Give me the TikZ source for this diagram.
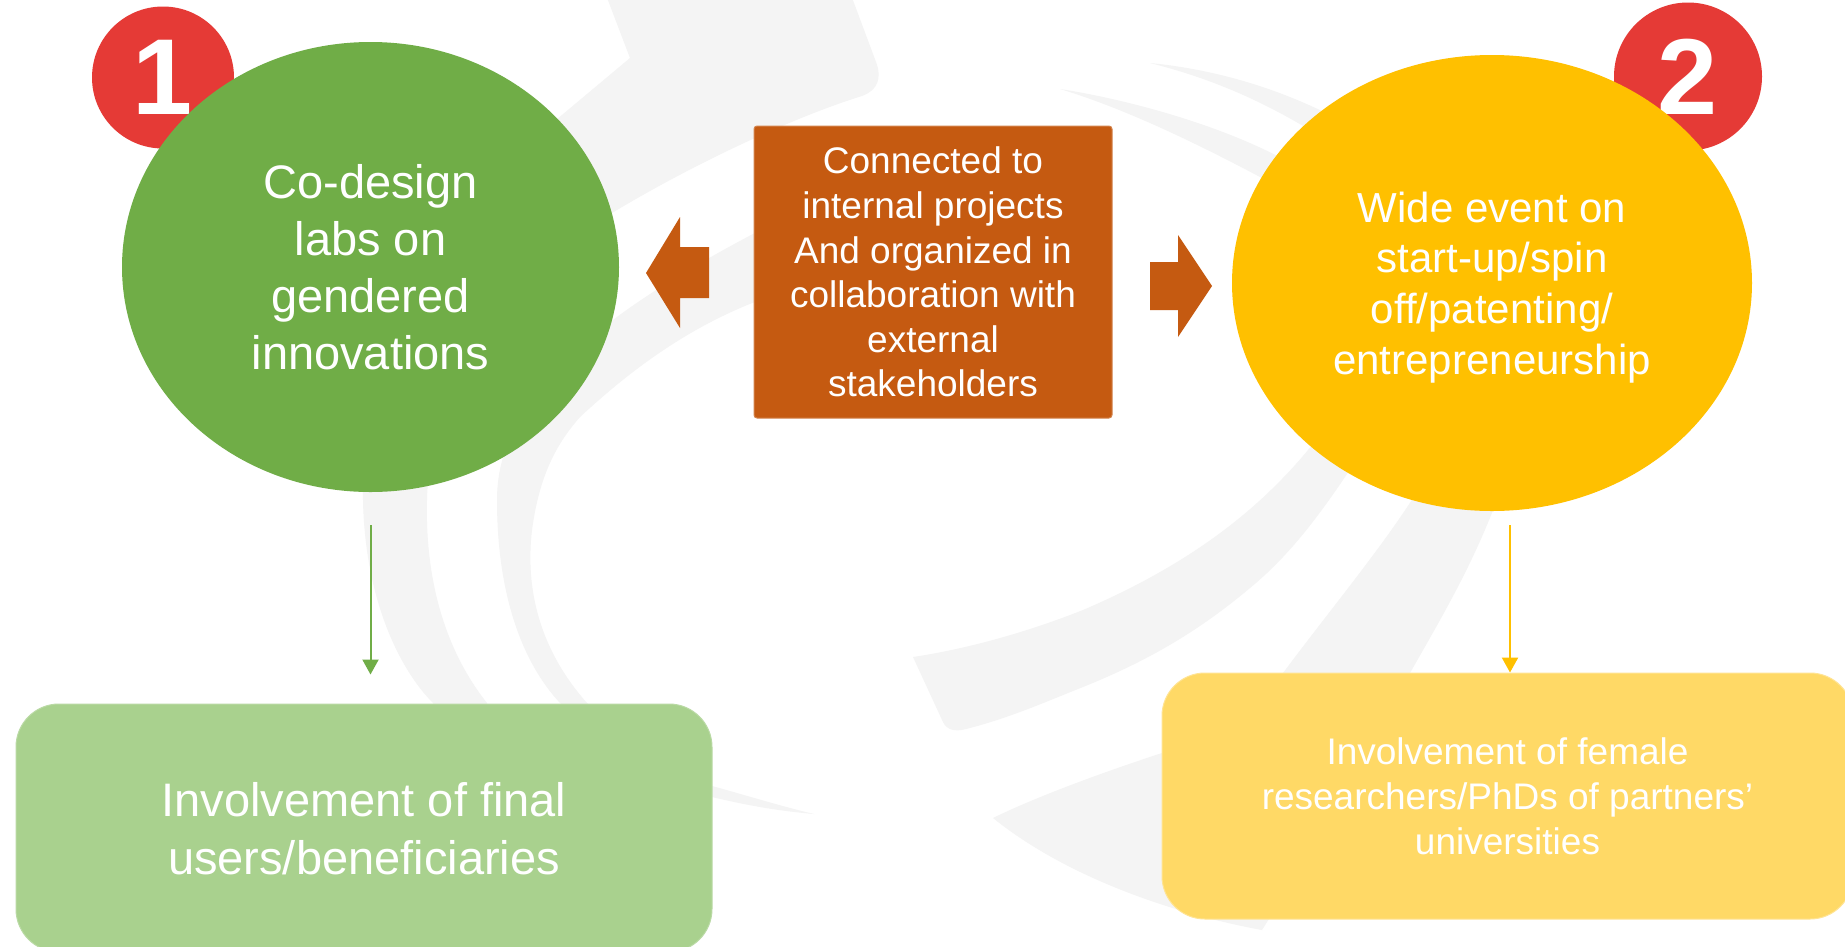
\documentclass[tikz,border=0pt]{standalone}
\usepackage{fontspec}
\setmainfont{Liberation Sans}
\usetikzlibrary{shapes.geometric,arrows.meta}
\definecolor{swirl}{HTML}{F4F4F4}
\definecolor{cgreen}{HTML}{70AD47}
\definecolor{cyellow}{HTML}{FFC000}
\definecolor{corange}{HTML}{C55A11}
\definecolor{clgreen}{HTML}{A9D18E}
\definecolor{clyellow}{HTML}{FFD966}
\definecolor{cred}{HTML}{E53A36}
\begin{document}
\begin{tikzpicture}[x=1pt,y=-1pt,
  badge/.style={circle, fill=cred, inner sep=0pt, text=white,
    font=\fontsize{108}{108}\selectfont\bfseries},
  bigell/.style={ellipse, inner sep=0pt, text=white, align=center, text depth=0pt},
  softbox/.style={rectangle, rounded corners=43pt, inner sep=0pt, text=white,
    align=center, text depth=0pt, line width=1pt},
  blockarrow/.style={fill=corange},
  link/.style={line width=2pt, -{Triangle[length=15pt,width=16pt]}},
  swirlband/.style={fill=swirl}]

\useasboundingbox (0,0) rectangle (1845,946);
\fill[white] (0,0) rectangle (1845,946);

% ---- background swirl ----
% head band, top left
\fill[swirlband] (606,-5) -- (630,58) -- (550,125)
  .. controls (430,240) and (360,370) .. (363,500)
  .. controls (365,600) and (400,670) .. (433,703)
  -- (470,800) -- (530,800) -- (487,703)
  .. controls (445,650) and (425,580) .. (427,500)
  .. controls (428,400) and (520,280) .. (612,213)
  .. controls (700,160) and (800,115) .. (862,96)
  .. controls (878,90) and (882,78) .. (876,62)
  -- (851,-5) -- cycle;
% thin inner band, left
\fill[swirlband] (790,215) .. controls (720,250) and (650,290) .. (600,330)
  .. controls (530,390) and (497,440) .. (497,500)
  .. controls (497,590) and (520,660) .. (560,703)
  -- (700,800) -- (712,797)
  .. controls (750,806) and (780,811) .. (814,814)
  .. controls (780,806) and (745,795) .. (712,786)
  -- (690,780) -- (587,703)
  .. controls (540,650) and (525,590) .. (532,530)
  .. controls (540,470) and (560,440) .. (580,417)
  .. controls (620,380) and (680,330) .. (760,300)
  -- (800,285) -- cycle;
% crescent B -> lower band ending near centre bottom
\fill[swirlband] (1060,89) .. controls (1130,100) and (1220,125) .. (1285,160)
  -- (1355,462)
  .. controls (1320,515) and (1290,555) .. (1250,588)
  .. controls (1200,630) and (1150,660) .. (1083,687)
  .. controls (1050,700) and (1010,718) .. (966,729)
  .. controls (955,732) and (947,730) .. (943,722)
  -- (913,657)
  .. controls (960,650) and (1020,635) .. (1083,610)
  .. controls (1200,560) and (1270,500) .. (1320,435)
  -- (1275,185)
  .. controls (1210,150) and (1130,110) .. (1060,89) -- cycle;
% crescent A -> wide band under the yellow box
\fill[swirlband] (1150,63) .. controls (1220,70) and (1280,90) .. (1330,115)
  -- (1495,505)
  .. controls (1470,570) and (1440,620) .. (1410,673)
  .. controls (1360,770) and (1300,870) .. (1262,930)
  .. controls (1180,915) and (1070,880) .. (993,818)
  .. controls (1040,795) and (1110,770) .. (1162,753)
  -- (1283,673)
  .. controls (1330,610) and (1380,550) .. (1415,495)
  -- (1310,130)
  .. controls (1260,100) and (1210,78) .. (1150,63) -- cycle;

% ---- badges ----
\node[badge, minimum size=142pt] (b1) at (163,77.5) {1};
\node[badge, minimum size=148pt] (b2) at (1688,76.5) {2};

% ---- main shapes ----
\node[bigell, fill=cgreen, minimum width=497pt, minimum height=450pt,
  font=\fontsize{47}{57}\selectfont] (g1) at (370.5,267)
  {Co-design\\labs on\\gendered\\innovations};
\node[bigell, fill=cyellow, minimum width=520pt, minimum height=456pt,
  font=\fontsize{42}{50.7}\selectfont] (y2) at (1492,283)
  {Wide event on\\start-up/spin\\off/patenting/\\entrepreneurship};
\node[rectangle, fill=corange, draw=corange!75!white, line width=1pt,
  rounded corners=3pt, minimum width=358pt, minimum height=292pt,
  inner sep=0pt, text=white, align=center, text depth=0pt,
  font=\fontsize{37}{44.6}\selectfont] (ob) at (933,272)
  {Connected to\\internal projects\\And organized in\\collaboration with\\external\\stakeholders};

% ---- block arrows ----
\fill[blockarrow] (646,273) -- (680,217) -- (680,247) -- (709,247) -- (709,298)
  -- (680,298) -- (680,328) -- cycle;
\fill[blockarrow] (1150,262) -- (1178,262) -- (1178,235) -- (1212,286)
  -- (1178,337) -- (1178,310) -- (1150,310) -- cycle;

% ---- lower boxes ----
\node[softbox, fill=clgreen, draw=clgreen!80!white, minimum width=696pt,
  minimum height=248pt, font=\fontsize{47}{58}\selectfont] (gb) at (364,828)
  {Involvement of final\\users/beneficiaries};
\node[softbox, fill=clyellow, draw=clyellow!70!white, minimum width=691pt,
  minimum height=246pt, font=\fontsize{37}{45}\selectfont] (yb) at (1507.5,796)
  {Involvement of female\\researchers/PhDs of partners’\\universities};

% ---- connectors ----
\draw[link, cgreen, shorten <=33pt, shorten >=29pt] (g1.south) -- (g1.south |- gb.north);
\draw[link, cyellow, line width=2.3pt, shorten <=14pt] ([xshift=18pt]y2.south)
  -- ([xshift=18pt]y2.south |- yb.north);
\end{tikzpicture}
\end{document}
